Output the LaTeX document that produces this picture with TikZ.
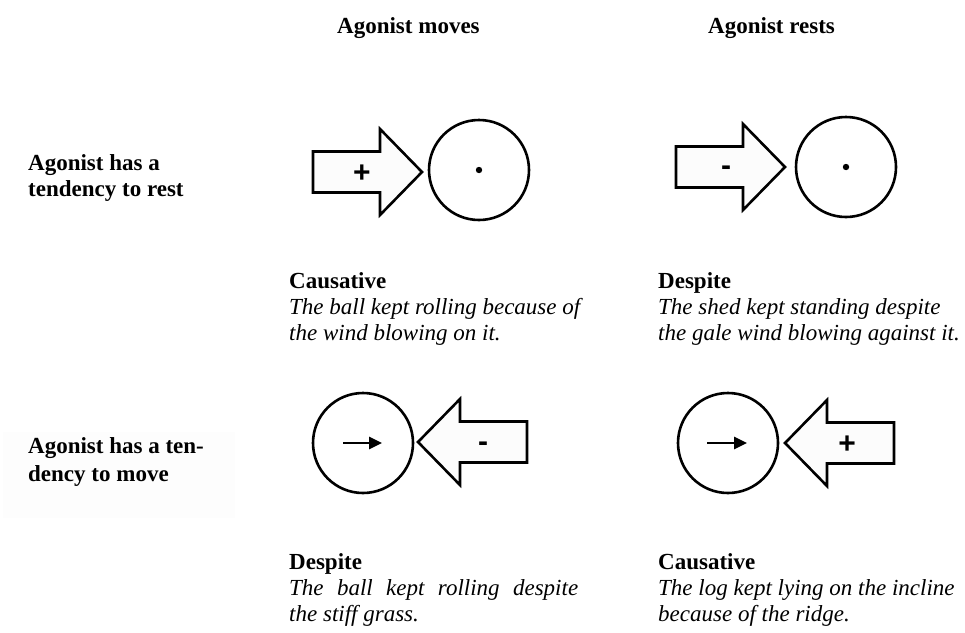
\documentclass[tikz,border=0pt]{standalone}
\usepackage{fontspec}
\setmainfont{Liberation Serif}
\newfontfamily\signfont{Liberation Sans}
\usetikzlibrary{arrows.meta}

\tikzset{
  pics/force/.style={code={
    \draw[forcebody] (0,0) -- (-42,43) -- (-42,20.5) -- (-109,20.5)
      -- (-109,-20.5) -- (-42,-20.5) -- (-42,-43) -- cycle;
  }}
}

\begin{document}
\begin{tikzpicture}[x=1pt,y=-1pt,
    every node/.style={inner sep=0pt},
    forcebody/.style={line width=2.6pt, line join=miter, fill=black!1},
    agonist/.style={circle, draw, line width=2.6pt, minimum size=100pt},
    sign/.style={font=\signfont\bfseries\fontsize{30}{30}\selectfont, anchor=base},
    motion/.style={line width=2.6pt, -{Triangle[length=13pt,width=12pt]}},
    colhead/.style={font=\fontsize{23}{26}\selectfont\bfseries, anchor=base west},
    rowhead/.style={font=\fontsize{23}{26}\selectfont\bfseries, anchor=base west},
    casename/.style={font=\fontsize{23}{26}\selectfont\bfseries, anchor=base west},
    example/.style={font=\fontsize{23}{26}\selectfont\itshape, anchor=base west}]
  \path[use as bounding box] (0,0) rectangle (965,632);

  % column and row headings
  \node[colhead] (moves) at (337,33) {Agonist moves};
  \node[colhead] (rests) at (708,33) {Agonist rests};
  \node[rowhead] (rest1) at (28,170) {Agonist has a};
  \node[rowhead] (rest2) at (28,196) {tendency to rest};
  \fill[gray!1.5] (3,432) rectangle (235,518);
  \node[rowhead] (move1) at (28,453) {Agonist has a ten-};
  \node[rowhead] (move2) at (28,481) {dency to move};

  % top row: agonist tends to rest
  \pic at (422,172) {force};
  \node[sign] (s1) at (362,182) {+};
  \node[agonist] (ag1) at (479,170) {};
  \fill (ag1.center) circle[radius=3.2pt];

  \pic at (785,167) {force};
  \node[sign] (s2) at (726,175) {-};
  \node[agonist] (ag2) at (846,167) {};
  \fill (ag2.center) circle[radius=3.2pt];

  % bottom row: agonist tends to move
  \node[agonist] (ag3) at (363,443) {};
  \draw[motion] ([xshift=-20pt]ag3.center) -- ([xshift=19pt]ag3.center);
  \pic[xscale=-1] at (418,442) {force};
  \node[sign] (s3) at (483,451) {-};

  \node[agonist] (ag4) at (728,443) {};
  \draw[motion] ([xshift=-21pt]ag4.center) -- ([xshift=19pt]ag4.center);
  \pic[xscale=-1] at (785,443) {force};
  \node[sign] (s4) at (847,453) {+};

  % captions
  \node[casename] (c1) at (289,288) {Causative};
  \node[example] (c1a) at (289,314) {The ball kept rolling because of};
  \node[example] (c1b) at (289,340) {the wind blowing on it.};

  \node[casename] (c2) at (658,288) {Despite};
  \node[example] (c2a) at (658,314) {The shed kept standing despite};
  \node[example] (c2b) at (658,340) {the gale wind blowing against it.};

  \node[casename] (c3) at (289,569) {Despite};
  \node[example] (c3a) at (289,595) {\makebox[289pt][s]{The ball kept rolling despite}};
  \node[example] (c3b) at (289,621) {the stiff grass.};

  \node[casename] (c4) at (658,569) {Causative};
  \node[example] (c4a) at (658,595) {The log kept lying on the incline};
  \node[example] (c4b) at (658,621) {because of the ridge.};
\end{tikzpicture}
\end{document}
